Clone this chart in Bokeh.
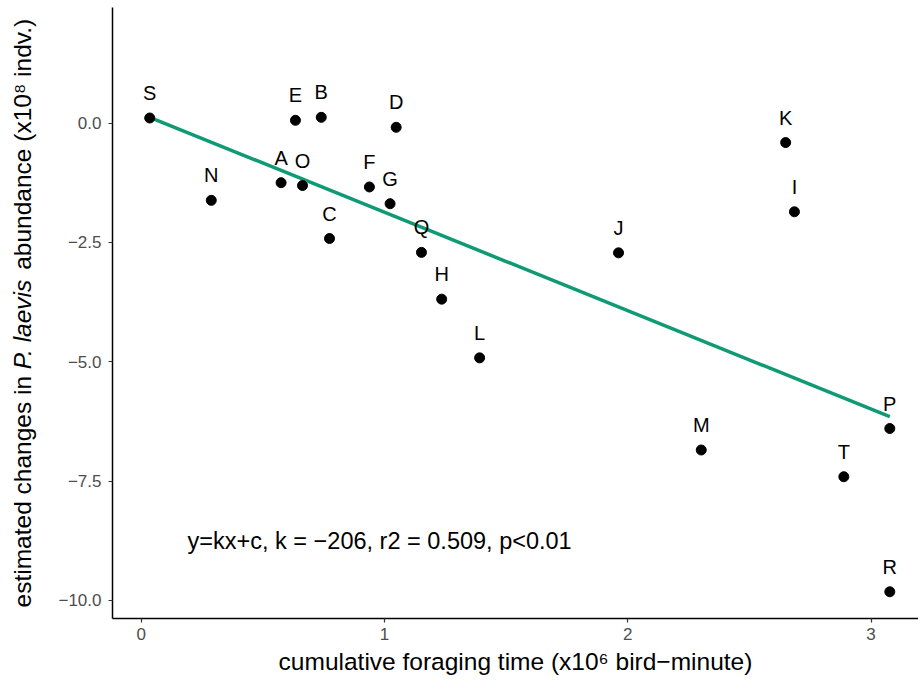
import numpy as np
from bokeh.plotting import figure
from bokeh.layouts import row
from bokeh.models import Range1d, ColumnDataSource, Label, FixedTicker
from bokeh.core.properties import value
from bokeh.embed import file_html
from bokeh.resources import INLINE

# ---- data ----
site = ["S", "N", "E", "B", "D", "A", "O", "C", "F", "G", "Q", "H", "L",
        "J", "K", "I", "M", "T", "P", "R"]
foraging = [0.035, 0.288, 0.634, 0.740, 1.048, 0.575, 0.663, 0.774, 0.938, 1.023,
            1.152, 1.235, 1.391, 1.962, 2.649, 2.685, 2.302, 2.888, 3.077, 3.077]
change = [0.105, -1.62, 0.057, 0.119, -0.09, -1.25, -1.31, -2.42, -1.34, -1.69,
          -2.71, -3.69, -4.92, -2.72, -0.41, -1.86, -6.85, -7.41, -6.40, -9.82]
x_ticks = [0, 1, 2, 3]
y_ticks = [0.0, -2.5, -5.0, -7.5, -10.0]
annotation = "y=kx+c, k = \u2212206, r2 = 0.509, p<0.01"
x_title = "cumulative foraging time (x10\u2076 bird\u2212minute)"
y_title = [("estimated changes in", "normal"), ("P. laevis", "italic"),
           ("abundance (x10\u2078 indv.)", "normal")]

FONT = "Liberation Sans"
W, H = 918, 685
SIDE = 45
LEFT, TOP, BOTTOM = 112, 7, 67
X0, X1 = -0.118, 3.195
Y0, Y1 = -10.38, 2.42

p = figure(width=W - SIDE, height=H,
           x_range=Range1d(X0, X1), y_range=Range1d(Y0, Y1),
           min_border_left=LEFT - SIDE, min_border_right=0, min_border_top=TOP,
           min_border_bottom=BOTTOM, outline_line_color=None,
           toolbar_location=None, output_backend="svg")
p.grid.visible = False
p.background_fill_color = "white"
p.border_fill_color = "white"

for ax in (p.xaxis[0], p.yaxis[0]):
    ax.axis_line_color = "black"
    ax.axis_line_width = 1.5
    ax.major_tick_line_color = "#333333"
    ax.major_tick_line_width = 1.2
    ax.major_tick_in = 0
    ax.major_tick_out = 4
    ax.minor_tick_line_color = None
    ax.major_label_text_font = FONT
    ax.major_label_text_color = "#4D4D4D"
    ax.major_label_text_font_size = "17px"

p.xaxis.ticker = FixedTicker(ticks=x_ticks)
p.yaxis.ticker = FixedTicker(ticks=y_ticks)
p.yaxis.major_label_overrides = {t: f"{t:.1f}".replace("-", "\u2212") for t in y_ticks}
p.xaxis.major_label_standoff = 5
p.yaxis.major_label_standoff = 7

p.xaxis.axis_label = x_title
p.xaxis.axis_label_text_font = FONT
p.xaxis.axis_label_text_font_style = "normal"
p.xaxis.axis_label_text_font_size = "24.5px"
p.xaxis.axis_label_text_color = "black"
p.xaxis.axis_label_standoff = 5

# ---- regression line ----
k, c = np.polyfit(foraging, change, 1)
xs = np.array([min(foraging), max(foraging)])
p.line(xs, k * xs + c, line_color="#0E9A74", line_width=3.5)

src = ColumnDataSource(dict(x=foraging, y=change, lab=site))
p.scatter("x", "y", source=src, size=10, fill_color="black", line_color="black")
p.text("x", "y", text="lab", source=src, y_offset=-25,
       text_font=value(FONT), text_font_size="20px", text_color="black",
       text_align="center", text_baseline="middle")

p.add_layout(Label(x=0.98, y=-8.75, text=annotation, text_font=FONT,
                   text_font_size="23.5px", text_color="black",
                   text_align="center", text_baseline="middle"))

# ---- y axis title panel (mixed upright / italic pieces) ----
AW = {' ': 278, 'a': 556, 'b': 556, 'c': 500, 'd': 556, 'e': 556, 'g': 556,
      'h': 556, 'i': 222, 'l': 222, 'm': 833, 'n': 556, 's': 500, 't': 278,
      'u': 556, 'v': 500, 'x': 500, '.': 278, '(': 333, ')': 333, 'P': 667,
      '0': 556, '1': 556, '\u2078': 360}
def tw(s, size):
    return sum(AW.get(ch, 556) for ch in s) / 1000.0 * size

ysize = 24.5
gap = tw(" ", ysize)
frame_h = H - TOP - BOTTOM
side = figure(width=SIDE, height=H, x_range=Range1d(0, SIDE),
              y_range=Range1d(0, frame_h),
              min_border_left=0, min_border_right=0, min_border_top=TOP,
              min_border_bottom=BOTTOM, outline_line_color=None,
              toolbar_location=None, x_axis_type=None, y_axis_type=None,
              output_backend="svg")
side.grid.visible = False
side.background_fill_color = "white"
side.border_fill_color = "white"
total = sum(tw(s, ysize) for s, _ in y_title) + gap * (len(y_title) - 1)
start = frame_h / 2 - total / 2
for s, style in y_title:
    side.text(x=[22], y=[start], text=[s], angle=np.pi / 2,
              text_font=value(FONT), text_font_style=style,
              text_font_size=f"{ysize}px", text_color="black",
              text_align="left", text_baseline="middle")
    start += tw(s, ysize) + gap

layout = row(side, p, spacing=0)
open("out.html", "w").write(file_html(layout, INLINE))
